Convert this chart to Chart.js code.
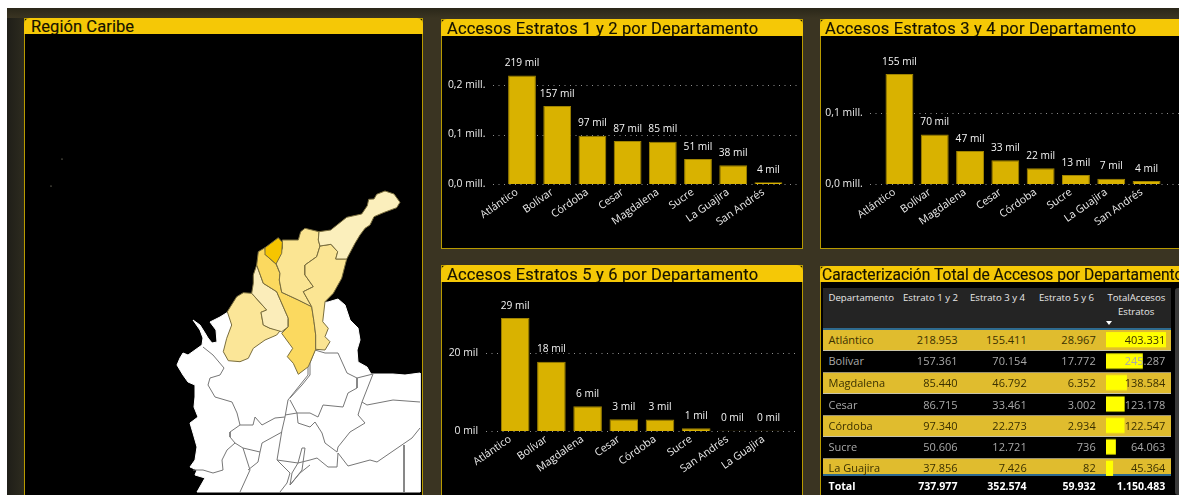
<!DOCTYPE html>
<html lang="es"><head><meta charset="utf-8">
<script src="https://cdn.jsdelivr.net/npm/chart.js@4"></script>
<style>
html,body{margin:0;padding:0;background:#fff;width:1179px;height:495px;overflow:hidden}
.abs{position:absolute}
.panel{position:absolute;box-sizing:border-box;border:1px solid #b89a00;background:#000}
.head{position:absolute;background:#f5c806;border-radius:6px 6px 0 0;color:#151200;font-family:"Roboto",sans-serif;white-space:nowrap;overflow:hidden;box-sizing:border-box;line-height:19px;-webkit-text-stroke:0.15px #151200}
canvas{position:absolute;display:block}
.t{position:absolute;font-family:"Open Sans",sans-serif;font-size:10.4px;line-height:14px;white-space:nowrap;z-index:5}
.r{transform:translate(-100%,-50%)}
.l{transform:translate(0,-50%)}
</style></head><body>
<div id="root"></div>
<script>
/* ---- data ---- */
const estratos12Labels = ["Atlántico","Bolívar","Córdoba","Cesar","Magdalena","Sucre","La Guajira","San Andrés"];
const estratos12Values = [218953,157361,97340,86715,85440,50606,37856,3706];
const estratos12Ticks = [0,100000,200000];
const estratos34Labels = ["Atlántico","Bolívar","Magdalena","Cesar","Córdoba","Sucre","La Guajira","San Andrés"];
const estratos34Values = [155411,70154,46792,33461,22273,12721,7426,4336];
const estratos34Ticks = [0,100000];
const estratos56Labels = ["Atlántico","Bolívar","Magdalena","Cesar","Córdoba","Sucre","San Andrés","La Guajira"];
const estratos56Values = [28967,17772,6352,3002,2934,736,87,82];
const estratos56Ticks = [0,20000];

const tableColumns = ["Departamento","Estrato 1 y 2","Estrato 3 y 4","Estrato 5 y 6"];
const tableDepartments = ["Atlántico","Bolívar","Magdalena","Cesar","Córdoba","Sucre","La Guajira"];
const tableE12 = [218953,157361,85440,86715,97340,50606,37856];
const tableE34 = [155411,70154,46792,33461,22273,12721,7426];
const tableE56 = [28967,17772,6352,3002,2934,736,82];
const tableTotal = [403331,245287,138584,123178,122547,64063,45364];
const tableGrand = ["Total","737.977","352.574","59.932","1.150.483"];

/* map outlines, in map units */
const mapLand = [[193,320],[200,325],[205,333],[208,338],[212,343],[217,342],[216,330],[210,322],[220,317],[228,312],[328,302],[338,299],[345,305],[350,320],[358,328],[360,340],[357,350],[358,362],[367,367],[371,374],[393,374],[405,375],[420,373],[420,492],[197,492],[205,478],[195,475],[197,470],[190,467],[195,460],[197,447],[193,433],[190,423],[198,417],[194,407],[195,397],[195,385],[188,382],[183,375],[177,365],[180,358],[183,353],[188,355],[202,345],[203,338],[200,330]];
const mapGuajira = [[319,231.7],[330.7,230],[346.7,217.3],[361.7,214],[367.3,205.7],[368.7,199.3],[374,199],[376.7,194.3],[385,191],[394,194],[400,202.3],[396.7,207.7],[383.3,212.7],[374,216.7],[370,225],[365,228.3],[360,235],[355,243.3],[346.7,259],[335.7,259],[337.7,251.7],[331,244.3],[320,246],[318.3,240]];
const mapMagdalena = [[282.3,240],[298.3,240],[300.7,231.7],[305,228.3],[319,231.7],[318.3,240],[320,246],[316.7,256.7],[305,265],[305,275],[313.3,286.7],[303.3,291.7],[311.7,306.7],[298.3,300],[281.7,292.3],[279.3,280],[280,273.3],[276,263.3],[282.3,248.3]];
const mapCesar = [[320,246],[331,244.3],[337.7,251.7],[335.7,259],[346.7,259],[341.7,278.3],[333.3,293.3],[325,301.7],[322.7,321.7],[328.3,328.3],[325,336.7],[330,341.7],[325,350],[315.7,349.3],[315.7,335],[314,321.7],[311.7,306.7],[303.3,291.7],[313.3,286.7],[305,275],[305,265],[316.7,256.7]];
const mapAtlantico = [[278.3,237.7],[282.3,242.3],[281.7,253.3],[276,264],[265.7,255],[265,247.7]];
const mapBolivar = [[265,247.7],[265.7,255],[276,264],[280,273.3],[279.3,280],[281.7,292.3],[298.3,300],[311.7,306.7],[314,321.7],[315.7,335],[315.7,349.3],[308.3,366.7],[298.3,374.3],[293.3,363.3],[287.3,356.7],[292.7,348.3],[281.7,333.3],[288.3,326.7],[288.3,318.3],[276.7,291.7],[263.3,283.3],[256.7,265],[258.3,251.7]];
const mapSucre = [[256.7,265],[263.3,283.3],[276.7,291.7],[288.3,318.3],[288.3,326.7],[281.7,331.7],[270,328.3],[263.3,325],[261,312.3],[266.7,310],[251.7,293.3],[253.3,283.3],[253.3,275]];
const mapCordoba = [[251.7,293.3],[266.7,310],[261,312.3],[263.3,325],[270,328.3],[280.7,330],[276.7,335],[265,340],[253.3,348.3],[248.3,358.3],[240,361.7],[228.3,360.7],[223.3,351.7],[226.7,338.3],[231.7,325],[227.3,311.7],[236.7,296.7],[243.3,292.7]];
const mapBorders = [
 [[203,347],[213,355],[224,368],[220,375],[210,378],[208,385],[215,397],[232,402],[237,413],[240,425],[253,425],[255,417],[262,425],[275,418],[285,417]],
 [[285,417],[288,400],[308,375],[308,365]],
 [[290,398],[302,385],[310,375],[310,363],[315,350],[325,353],[338,353],[347,373],[357,378],[357,388],[348,393],[343,407],[323,405],[318,417],[310,413],[297,413],[290,400]],
 [[357,378],[373,374],[362,402],[358,415],[365,423],[350,432],[338,447]],
 [[285,415],[297,413],[298,423],[310,427],[315,422],[322,433],[325,443],[337,452],[338,447]],
 [[362,402],[367,405],[393,400],[420,402]],
 [[420,428],[412,438],[377,462],[370,460],[348,466],[338,453],[337,467],[328,467],[317,458],[310,460],[298,463],[277,460],[282,430],[285,417]],
 [[240,425],[230,432],[230,437],[235,443],[227,450],[222,460],[223,470],[213,473],[203,470],[193,470]],
 [[235,443],[243,448],[260,452],[262,443],[282,432]],
 [[243,448],[250,470],[240,492]],
 [[260,452],[258,462],[248,470]],
 [[404,445],[404,492]],
 [[277,460],[290,473],[287,483],[280,492]],
 [[302,448],[305,448],[302,470],[290,485],[292,473],[298,463],[302,448]],
 [[290,485],[300,473],[310,465]]
];
const mapIslands = [[62,159],[51,186]];

/* ---- layout helpers ---- */
const root = document.getElementById("root");
function el(cls, css, txt){
  const d = document.createElement("div");
  d.className = cls; d.style.cssText = css;
  if(txt!==undefined) d.textContent = txt;
  root.appendChild(d); return d;
}
function mkCanvas(x,y,w,h,z){
  const c = document.createElement("canvas");
  c.width=w; c.height=h;
  c.style.cssText=`left:${x}px;top:${y}px;width:${w}px;height:${h}px;z-index:${z||2}`;
  root.appendChild(c); return c;
}
el("abs",`left:7px;top:8px;width:1172px;height:487px;background:#3a3422;background-image:linear-gradient(90deg,#1f1e18 0,#2c2a1e 16px,rgba(58,52,34,0) 40px)`);
el("abs","left:7px;top:8px;width:1172px;height:10px;background:linear-gradient(180deg,#2a2719,#3a3422)");

function panel(x,y,w,h,headH,title,fs,ls,tx,lh){
  el("panel",`left:${x}px;top:${y}px;width:${w}px;height:${h}px`);
  el("head",`left:${x}px;top:${y}px;width:${w}px;height:${headH}px;font-size:${fs}px;letter-spacing:${ls}px;padding-left:${tx}px;z-index:3;line-height:${lh||19}px`,title);
}
panel(24,18,399,490,16,"Región Caribe",16.5,0.08,7,17);
panel(441,19,362,230,17,"Accesos Estratos 1 y 2 por Departamento",16.5,0.18,6);
panel(820,19,370,230,17,"Accesos Estratos 3 y 4 por Departamento",16.5,0.18,5);
panel(441,265,362,240,17,"Accesos Estratos 5 y 6 por Departamento",16.5,0.18,6);
panel(820,266,370,240,16,"Caracterización Total de Accesos por Departamento",15.6,0,2);

/* ---- shared bar chart ---- */
const BAR="#d9b200", TXT="#ececec", UI='"Open Sans", sans-serif';
const dataLabels = {
  id:"dataLabels",
  afterDatasetsDraw(c){
    const {ctx}=c, m=c.getDatasetMeta(0), vals=c.data.datasets[0].data;
    ctx.save(); ctx.font=`10.2px ${UI}`; ctx.fillStyle="#f4f4f4"; ctx.textAlign="center"; ctx.textBaseline="middle";
    m.data.forEach((b,i)=>ctx.fillText(Math.round(vals[i]/1000)+" mil", b.x, b.y-12.3));
    ctx.restore();
  }
};
const dottedGrid = {
  id:"dottedGrid",
  beforeDatasetsDraw(c,_,o){
    const {ctx,scales:{y}}=c;
    ctx.save(); ctx.strokeStyle="#8f8f8f"; ctx.lineWidth=1; ctx.setLineDash([1,4.5]);
    y.ticks.forEach(t=>{const p=Math.round(y.getPixelForValue(t.value))+.5;
      ctx.beginPath(); ctx.moveTo(o.left,p); ctx.lineTo(o.right,p); ctx.stroke();});
    ctx.restore();
  }
};
function barChart(box,labels,values,o){
  const c = mkCanvas(box.x,box.y,box.w,box.h);
  const zeroY=o.zeroY-box.y, topY=zeroY-o.max*o.pxPerUnit;
  return new Chart(c,{type:"bar",
    data:{labels,datasets:[{data:values,backgroundColor:BAR,borderColor:"#a08400",borderWidth:1,barPercentage:o.barPct,categoryPercentage:1}]},
    plugins:[dottedGrid,dataLabels],
    options:{responsive:false,animation:false,
      layout:{padding:{top:topY,left:0,right:box.w-(o.plotR-box.x),bottom:0}},
      plugins:{legend:{display:false},tooltip:{enabled:false},dottedGrid:{left:o.gridL-box.x,right:o.gridR-box.x}},
      scales:{
        x:{grid:{display:false,drawTicks:false},border:{display:false},
           afterFit(s){s.height=box.h-zeroY;},
           ticks:{color:TXT,font:{family:UI,size:10.6},minRotation:35,maxRotation:35,autoSkip:false,padding:2,labelOffset:-5}},
        y:{min:0,max:o.max,grid:{display:false,drawTicks:false},border:{display:false},
           afterBuildTicks(s){s.ticks=o.ticks.map(value=>({value}));s.min=0;s.max=o.max;},
           afterFit(s){s.width=o.plotL-box.x;},
           ticks:{color:TXT,font:{family:UI,size:10.4},padding:o.tickPad,callback:o.fmt}}
      }}});
}
const mill=v=>(v/1e6).toFixed(1).replace(".",",")+" mill.";
const mil=v=>(v/1000)+" mil";
barChart({x:442,y:0,w:360,h:248},estratos12Labels,estratos12Values,
  {zeroY:184,max:250000,pxPerUnit:0.000495,ticks:estratos12Ticks,fmt:mill,plotL:504.4,plotR:786,gridL:493,gridR:798,barPct:.79,tickPad:19});
barChart({x:821,y:0,w:358,h:248},estratos34Labels,estratos34Values,
  {zeroY:184,max:200000,pxPerUnit:0.000707,ticks:estratos34Ticks,fmt:mill,plotL:881.8,plotR:1164.2,gridL:870,gridR:1179,barPct:.79,tickPad:19});
barChart({x:442,y:250,w:360,h:245},estratos56Labels,estratos56Values,
  {zeroY:431,max:30000,pxPerUnit:0.0039,ticks:estratos56Ticks,fmt:mil,plotL:497.1,plotR:786.7,gridL:486,gridR:795,barPct:.79,tickPad:19});

/* ---- map ---- */
const toPts=a=>a.map(([x,y])=>({x,y}));
const closed=a=>toPts(a.concat([a[0]]));
function region(a,fill){return {data:closed(a),showLine:true,pointRadius:0,fill:"shape",backgroundColor:fill,borderColor:"#7a6e3e",borderWidth:1,tension:0,borderJoinStyle:"round"};}
/* first dataset is painted last */
const mapDatasets=[
  {data:toPts(mapIslands),showLine:false,pointRadius:.6,pointBackgroundColor:"#b7b39a",pointBorderWidth:0},
  region(mapAtlantico,"#f6c500"),region(mapGuajira,"#fbefbc"),region(mapCesar,"#fbe593"),region(mapMagdalena,"#fbe593"),
  region(mapBolivar,"#fbd95f"),region(mapSucre,"#fbedba"),region(mapCordoba,"#fbe698"),
  ...mapBorders.map(b=>({data:toPts(b),showLine:true,pointRadius:0,fill:false,borderColor:"#777777",borderWidth:1,tension:0})),
  {data:closed(mapLand),showLine:true,pointRadius:0,fill:"shape",backgroundColor:"#fff",borderColor:"#fff",borderWidth:1,tension:0}
];
new Chart(mkCanvas(25,35,397,458),{type:"scatter",data:{datasets:mapDatasets},
  options:{responsive:false,animation:false,layout:{autoPadding:false,padding:0},
    plugins:{legend:{display:false},tooltip:{enabled:false}},
    scales:{x:{display:false,min:25,max:422},y:{display:false,reverse:true,min:35,max:493}}}});

/* ---- table ---- */
const fmtN=n=>String(n).replace(/\B(?=(\d{3})+$)/g,".");
el("abs","left:823px;top:288px;width:348px;height:207px;background:#000;z-index:2");
el("abs","left:823px;top:288px;width:348px;height:40px;background:#242424;z-index:2");
el("abs","left:823px;top:328px;width:348px;height:1.5px;background:#2e6a8e;z-index:3");
el("abs","left:1175px;top:288px;width:4px;height:207px;background:#3a3a3a;border-radius:3px 0 0 3px;z-index:3");
el("abs","left:823px;top:474px;width:348px;height:1.5px;background:#2e6a8e;z-index:4");
const rowY=[340,361.4,383,404.6,426,447,468.4];
const colR=[957.5,1026.7,1095.7,1165.3];
const W="#e8e8e8";
[["t l",828.5,298.3],["t l",903,298.3],["t l",970,298.3],["t l",1039,298.3]].forEach((h,i)=>
  el(h[0],`left:${h[1]}px;top:${h[2]}px;font-size:9.6px;color:${W}`,tableColumns[i]));
el("t l",`left:1107.5px;top:298.3px;font-size:9.6px;color:${W}`,"TotalAccesos");
el("t l",`left:1118px;top:312.3px;font-size:9.6px;color:${W}`,"Estratos");
el("abs","left:1106px;top:320.5px;width:0;height:0;border-left:3.5px solid transparent;border-right:3.5px solid transparent;border-top:4px solid #fff;z-index:5");
tableDepartments.forEach((d,i)=>{
  const striped=i%2===0, c=striped?"#3a3000":"#a9a9a9", y=rowY[i];
  if(striped){
    const h=i===6?17.4:21.6;
    el("abs",`left:823px;top:${y-10.8}px;width:348px;height:${h}px;background:#e0bc2e;box-sizing:border-box;border-top:1px solid #9a9172;border-bottom:1px solid #c9c4a8;z-index:2`);
  }
  el("t l",`left:828.5px;top:${y}px;color:${c};font-size:11px`,d);
  [tableE12[i],tableE34[i],tableE56[i],tableTotal[i]].forEach((v,k)=>
    el("t r",`left:${colR[k]}px;top:${y}px;color:${c};font-size:11px`,fmtN(v)));
});
el("t l",`left:828.5px;top:486px;color:#fff;font-weight:700;font-size:10.6px`,tableGrand[0]);
tableGrand.slice(1).forEach((v,k)=>el("t r",`left:${colR[k]}px;top:486px;color:#fff;font-weight:700;font-size:10.6px`,v));

const barCanvas=mkCanvas(1105.7,329.4,60,149.8,4);
new Chart(barCanvas,{type:"bar",
  data:{labels:tableDepartments,datasets:[{data:tableTotal,backgroundColor:"#ffff00",barThickness:14.5}]},
  options:{indexAxis:"y",responsive:false,animation:false,layout:{padding:0},
    plugins:{legend:{display:false},tooltip:{enabled:false}},
    scales:{x:{display:false,min:0,max:403331},y:{display:false}}}});
</script></body></html>
